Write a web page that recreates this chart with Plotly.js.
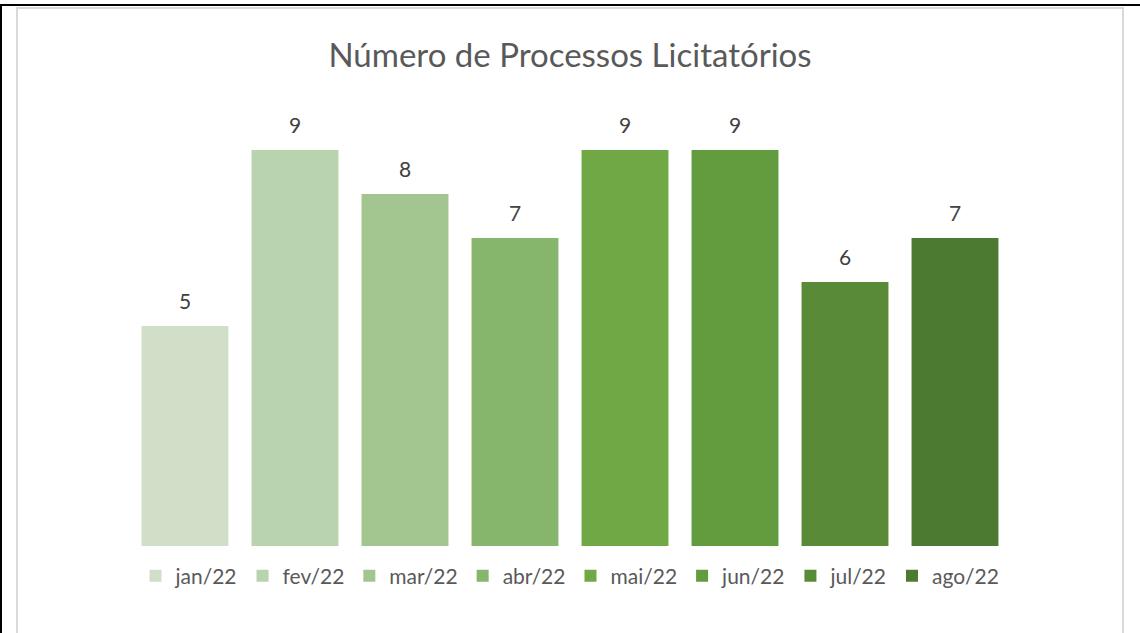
<!DOCTYPE html>
<html>
<head>
<meta charset="utf-8">
<script src="https://cdn.plot.ly/plotly-3.0.1.min.js"></script>
<style>
  html, body { margin:0; padding:0; background:#fff; }
  #wrap { position:relative; width:1140px; height:633px; overflow:hidden; }
  #chart { position:absolute; left:0; top:0; width:1140px; height:633px; }
  .outer { position:absolute; left:0; top:4px; width:1160px; height:700px; border-top:2px solid #000; border-left:2px solid #000; pointer-events:none; box-sizing:border-box; }
  .inner { position:absolute; left:16px; top:7px; width:1108px; height:700px; border:2px solid #d9d9d9; pointer-events:none; box-sizing:border-box; }
</style>
</head>
<body>
<div id="wrap">
  <div id="chart"></div>
  <div class="outer"></div>
  <div class="inner"></div>
</div>
<script>
const categories = ["jan/22","fev/22","mar/22","abr/22","mai/22","jun/22","jul/22","ago/22"];
const values = [5, 9, 8, 7, 9, 9, 6, 7];
const colors = ["#D1DFC8","#B9D3AF","#A3C590","#85B66B","#70A845","#639C3E","#598A37","#4B7A30"];
const titleText = "Número de Processos Licitatórios";

const FONT = "Lato, 'Open Sans', sans-serif";

const traces = categories.map((c, i) => ({
  type: "bar",
  name: c,
  x: [c],
  y: [values[i]],
  marker: { color: colors[i] },
  hoverinfo: "x+y"
}));

const annotations = categories.map((c, i) => ({
  x: c, y: values[i], xref: "x", yref: "y",
  text: String(values[i]),
  showarrow: false,
  yanchor: "bottom",
  yshift: 11,
  font: { family: FONT, size: 21, color: "#404040" }
}));

const layout = {
  width: 1140, height: 633,
  paper_bgcolor: "#fff", plot_bgcolor: "#fff",
  margin: { l: 130, r: 130, t: 106, b: 87 },
  barmode: "overlay",
  bargap: 0.21,
  showlegend: true,
  title: { text: titleText, x: 0.5, xanchor: "center", y: 0.913, yanchor: "middle",
           font: { family: FONT, size: 33, color: "#595959" } },
  xaxis: { type: "category", categoryorder: "array", categoryarray: categories,
           showticklabels: false, showgrid: false, zeroline: false, showline: false, ticks: "" },
  yaxis: { range: [0, 10], visible: false, fixedrange: true },
  legend: { orientation: "h", x: 0.5, xanchor: "center", y: -0.022, yanchor: "top",
            font: { family: FONT, size: 21, color: "#595959" }, traceorder: "normal",
            itemclick: false, itemdoubleclick: false },
  annotations: annotations
};

Plotly.newPlot("chart", traces, layout, { displayModeBar: false, staticPlot: true });
</script>
</body>
</html>
